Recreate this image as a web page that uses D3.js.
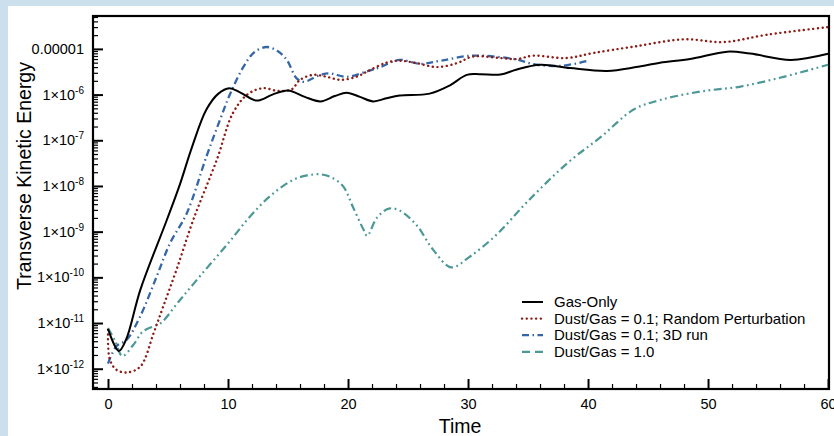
<!DOCTYPE html>
<html>
<head>
<meta charset="utf-8">
<script src="https://cdn.jsdelivr.net/npm/d3@7"></script>
<style>
  body { margin: 0; background: #cbe0ec; }
  svg { display: block; font-family: "Liberation Sans", Arial, sans-serif; }
</style>
</head>
<body>
<svg id="chart" width="834" height="436"></svg>
<script>
// time, energy pairs
var gasOnly = [
  [0, 7.4e-12], [0.9, 2.45e-12], [1.5, 4.3e-12], [2.7, 5.4e-11], [4.9, 1.8e-9],
  [6.0, 1.1e-8], [7.0, 7.1e-8], [8.2, 4.7e-7], [9.2, 1.05e-6], [10.1, 1.38e-6],
  [11.0, 1.12e-6], [12.4, 7.4e-7], [13.7, 1.0e-6], [15.0, 1.23e-6], [16.4, 8.9e-7],
  [17.7, 7.1e-7], [18.9, 9.3e-7], [19.9, 1.1e-6], [21.0, 8.9e-7], [22.1, 7.1e-7],
  [23.2, 8.3e-7], [24.3, 9.5e-7], [26.8, 1.05e-6], [28.5, 1.6e-6], [29.9, 2.7e-6],
  [31.0, 2.8e-6], [32.7, 2.75e-6], [34.0, 3.5e-6], [36.0, 4.5e-6], [38.5, 3.8e-6],
  [41.6, 3.3e-6], [44.0, 4.0e-6], [46.0, 5.0e-6], [48.5, 6.0e-6], [51.6, 8.7e-6],
  [53.5, 7.9e-6], [56.9, 5.75e-6], [60, 7.8e-6]
];
var dust01Random = [
  [0, 7.1e-12], [0.15, 1.6e-12], [0.7, 9.5e-13], [1.6, 8.3e-13], [2.7, 1.12e-12],
  [3.8, 6.0e-12], [4.6, 2.3e-11], [5.7, 1.45e-10], [7.1, 1.8e-9], [9.06, 3.7e-8],
  [10.4, 3.9e-7], [11.6, 1.0e-6], [12.9, 1.38e-6], [14.2, 1.2e-6], [15.3, 1.3e-6],
  [16.0, 2.1e-6], [17.1, 2.7e-6], [18.2, 2.46e-6], [19.4, 2.1e-6], [20.7, 2.46e-6],
  [21.6, 3.2e-6], [23.2, 5.0e-6], [24.3, 5.5e-6], [25.7, 4.9e-6], [27.4, 4.0e-6],
  [29.1, 4.9e-6], [30.4, 6.8e-6], [32.7, 6.3e-6], [34.1, 6.0e-6], [35.4, 7.1e-6],
  [38.2, 6.3e-6], [40.4, 8.1e-6], [43.8, 1.12e-5], [48.0, 1.62e-5], [51.3, 1.41e-5],
  [54.9, 2.04e-5], [60, 3.0e-5]
];
var dust01_3d = [
  [0, 1.3e-12], [0.7, 3.1e-12], [1.56, 4.3e-12], [2.67, 1.38e-11], [4.06, 1.05e-10],
  [5.17, 5.6e-10], [6.56, 2.5e-9], [8.2, 4.4e-8], [9.33, 2.8e-7], [10.2, 1.07e-6],
  [11.3, 4.1e-6], [12.2, 8.5e-6], [13.2, 1.1e-5], [14.1, 9.1e-6], [14.9, 5.75e-6],
  [15.7, 2.3e-6], [16.3, 1.9e-6], [17.7, 2.7e-6], [18.5, 2.9e-6], [19.9, 2.45e-6],
  [21.7, 3.3e-6], [22.7, 4.0e-6], [24.3, 5.75e-6], [26.0, 4.7e-6], [27.7, 5.5e-6],
  [30.2, 7.1e-6], [32.7, 6.6e-6], [34.1, 5.8e-6], [35.7, 4.5e-6], [37.9, 4.3e-6],
  [40.0, 5.5e-6]
];
var dust10 = [
  [0, 7.8e-12], [0.6, 4.0e-12], [1.2, 1.9e-12], [2.1, 3.3e-12], [2.9, 6.5e-12],
  [3.8, 8.5e-12], [4.4, 1.0e-11], [6.0, 3.2e-11], [8.0, 1.35e-10], [10.0, 5.5e-10],
  [11.8, 2.1e-9], [13.6, 6.3e-9], [15.4, 1.35e-8], [16.6, 1.7e-8], [17.7, 1.8e-8],
  [18.6, 1.55e-8], [19.6, 9.8e-9], [20.4, 3.5e-9], [21.3, 1.1e-9], [21.6, 8.1e-10],
  [22.4, 2.0e-9], [23.4, 3.2e-9], [24.3, 2.9e-9], [25.7, 1.4e-9], [27.1, 4.0e-10],
  [28.6, 1.66e-10], [30.2, 2.9e-10], [32.4, 8.7e-10], [34.9, 4.4e-9], [38.3, 3.2e-8],
  [41.1, 1.2e-7], [43.8, 4.7e-7], [46.0, 7.6e-7], [49.4, 1.17e-6], [52.7, 1.5e-6],
  [56.3, 2.45e-6], [60, 4.5e-6]
];

var seriesNames = ["Gas-Only", "Dust/Gas = 0.1; Random Perturbation", "Dust/Gas = 0.1; 3D run", "Dust/Gas = 1.0"];
var xTicks = [0, 10, 20, 30, 40, 50, 60];
var yTicks = [1e-12, 1e-11, 1e-10, 1e-9, 1e-8, 1e-7, 1e-6, 1e-5];

var svg = d3.select("#chart");

// white panel
svg.append("rect").attr("x", 8).attr("y", 6).attr("width", 826).attr("height", 430).attr("fill", "#fff");

var mLeft = 93, mRight = 829, mTop = 16, mBottom = 389;

var x = d3.scaleLinear().domain([-1.25, 60.08]).range([mLeft, mRight]);
var y = d3.scaleLog().domain([3.6e-13, 5.25e-5]).range([mBottom, mTop]);

// minor y ticks (2..9 in each decade)
var yMinor = [];
for (var e = -13; e <= -5; e++) {
  for (var m = 2; m <= 9; m++) {
    var v = m * Math.pow(10, e);
    if (v > 3.6e-13 && v < 5.25e-5) yMinor.push(v);
  }
}
var xMinor = d3.range(0, 61, 2).filter(function(d) { return d % 10 != 0; });

svg.append("g")
  .attr("transform", "translate(" + mLeft + ",0)")
  .call(d3.axisLeft(y).tickValues(yMinor).tickSizeInner(-5).tickSizeOuter(0).tickFormat(""))
  .call(function(g) { g.select(".domain").remove(); g.selectAll("line").attr("stroke-width", 1.2); });

var yAxis = svg.append("g")
  .attr("transform", "translate(" + mLeft + ",0)")
  .call(d3.axisLeft(y).tickValues(yTicks).tickSizeInner(-10).tickSizeOuter(0).tickPadding(9).tickFormat(""));
yAxis.attr("font-size", null).attr("font-family", null);
yAxis.select(".domain").remove();
yAxis.selectAll("line").attr("stroke-width", 2);
yAxis.selectAll(".tick text")
  .attr("font-size", 14.5).attr("fill", "#000")
  .each(function(d) {
    var t = d3.select(this);
    var p = Math.round(Math.log10(d));
    if (p == -5) { t.text("0.00001"); return; }
    t.append("tspan").text("1\u00d710");
    t.append("tspan").attr("font-size", 10).attr("dy", "-0.6em").text(String(p));
  });

svg.append("g")
  .attr("transform", "translate(0," + mBottom + ")")
  .call(d3.axisBottom(x).tickValues(xMinor).tickSizeInner(-5).tickSizeOuter(0).tickFormat(""))
  .call(function(g) { g.select(".domain").remove(); g.selectAll("line").attr("stroke-width", 1.2); });

var xAxis = svg.append("g")
  .attr("transform", "translate(0," + mBottom + ")")
  .call(d3.axisBottom(x).tickValues(xTicks).tickSizeInner(-10).tickSizeOuter(0).tickPadding(10));
xAxis.attr("font-size", null).attr("font-family", null);
xAxis.select(".domain").remove();
xAxis.selectAll("line").attr("stroke-width", 2);
xAxis.selectAll("text").attr("font-size", 14.5).attr("fill", "#000");

// frame
svg.append("rect")
  .attr("x", mLeft).attr("y", mTop).attr("width", mRight - mLeft).attr("height", mBottom - mTop)
  .attr("fill", "none").attr("stroke", "#000").attr("stroke-width", 2.2);

var styles = [
  { data: gasOnly,      color: "#000000", dash: null,            width: 2,   cap: "butt",  legDash: null },
  { data: dust01Random, color: "#8e1b14", dash: "0.1,4.6",       width: 2.4, cap: "round", legDash: "0.1,4.6" },
  { data: dust01_3d,    color: "#3566a8", dash: "7,3.5,1.5,3.5", width: 2.3, cap: "butt",  legDash: "7,3.5,1.5,3.5" },
  { data: dust10,       color: "#4c9897", dash: "8,3.5,1.8,3.5,1.8,3.5", width: 2.2, cap: "butt", legDash: "8,5" }
];

var line = d3.line()
  .x(function(d) { return x(d[0]); })
  .y(function(d) { return y(d[1]); })
  .curve(d3.curveCatmullRom.alpha(0.5));

var plot = svg.append("g");
styles.slice().reverse().forEach(function(s) {
  plot.append("path")
    .datum(s.data)
    .attr("d", line)
    .attr("fill", "none")
    .attr("stroke", s.color)
    .attr("stroke-width", s.width)
    .attr("stroke-linecap", s.cap)
    .attr("stroke-dasharray", s.dash);
});

// legend
var legend = svg.append("g").attr("transform", "translate(522,302)");
seriesNames.forEach(function(name, i) {
  var s = styles[i];
  var row = legend.append("g").attr("transform", "translate(0," + (i * 16.6) + ")");
  row.append("line")
    .attr("x1", 0).attr("x2", 21).attr("y1", 0).attr("y2", 0)
    .attr("stroke", s.color).attr("stroke-width", s.width)
    .attr("stroke-linecap", s.cap).attr("stroke-dasharray", s.legDash);
  row.append("text")
    .attr("x", 32).attr("y", 0).attr("dy", "0.35em")
    .attr("font-size", 15).attr("fill", "#000")
    .text(name);
});

// axis titles
svg.append("text")
  .attr("x", 460).attr("y", 433)
  .attr("text-anchor", "middle").attr("font-size", 19.5).attr("fill", "#000")
  .text("Time");
svg.append("text")
  .attr("transform", "translate(31,176) rotate(-90)")
  .attr("text-anchor", "middle").attr("font-size", 19.5).attr("fill", "#000")
  .text("Transverse Kinetic Energy");
</script>
</body>
</html>
